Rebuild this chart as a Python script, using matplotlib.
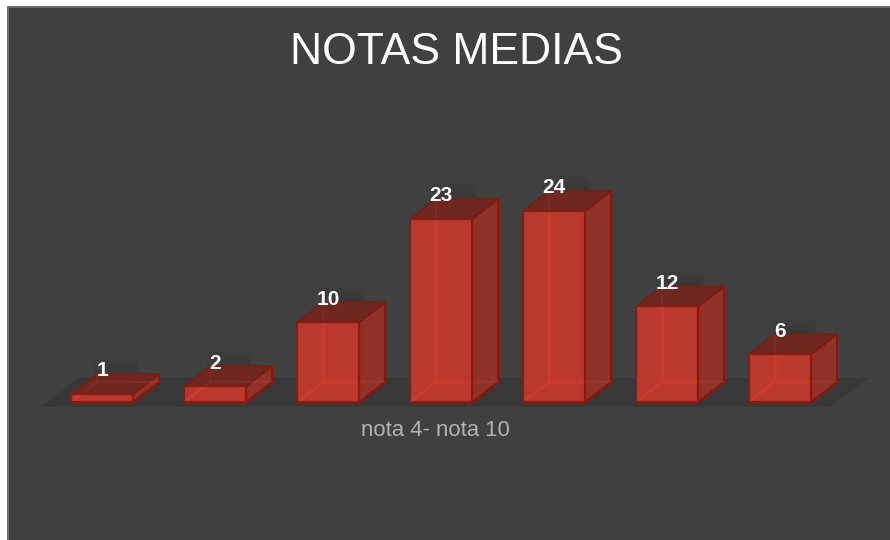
import matplotlib
matplotlib.use("Agg")
from matplotlib import pyplot
from matplotlib.patches import Polygon, Rectangle

categories = [0, 1, 2, 3, 4, 5, 6]
values = [1, 2, 10, 23, 24, 12, 6]
title = "NOTAS MEDIAS"
axis_label = "nota 4- nota 10"

pyplot.rcParams["font.family"] = ["Liberation Sans", "DejaVu Sans"]

# scale of the chart in pixels, the axes fill the whole figure
px_x = 113.0
px_y = 7.96
x0 = 102.0
y0 = 402.0
bar_w = 62.0 / px_x
dep_x = 26.0 / px_x
dep_y = 20.0 / px_y

fig = pyplot.figure(figsize=(8.9, 5.4), dpi=100, facecolor="white")
ax = fig.add_axes([0, 0, 1, 1])
ax.set_xlim(-x0 / px_x, (890 - x0) / px_x)
ax.set_ylim((y0 - 540) / px_y, y0 / px_y)
ax.axis("off")

# panel with its grey border on the left and top
tr = ax.transAxes
ax.add_patch(Rectangle((7 / 890, 0), 883 / 890, 534 / 540, transform=tr, fc="#6b6b6b", ec="none", zorder=0))
ax.add_patch(Rectangle((9 / 890, 0), 881 / 890, 532 / 540, transform=tr, fc="#404040", ec="none", zorder=0))

# floor
floor_l = -0.55
floor_r = 6.44
floor_front = -5.0 / px_y
floor_back = 24.0 / px_y
floor_shift = 39.0 / px_x
ax.add_patch(Polygon([(floor_l, floor_front), (floor_r, floor_front),
                      (floor_r + floor_shift, floor_back), (floor_l + floor_shift, floor_back)],
                     fc="#383838", ec="none", zorder=1))

for c, v in zip(categories, values):
    l = c - bar_w / 2
    r = c + bar_w / 2

    # soft dark shadow behind the label
    for k in range(8):
        inset = k * 3.0
        ax.add_patch(Rectangle((l + (22 + inset) / px_x, v + dep_y - 2 / px_y),
                               (46 - 2 * inset * 0.6) / px_x, (18 - k * 2.0) / px_y,
                               fc="#2c2c2c", ec="none", alpha=0.05, zorder=2))

    # right face
    right = Polygon([(r, 0), (r + dep_x, dep_y), (r + dep_x, v + dep_y), (r, v)],
                    fc="#8f3329", ec="#84190f", lw=1.5, joinstyle="round", zorder=4)
    ax.add_patch(right)
    # top face
    ax.add_patch(Polygon([(l, v), (r, v), (r + dep_x, v + dep_y), (l + dep_x, v + dep_y)],
                         fc="#6f281f", ec="#84190f", lw=1.5, joinstyle="round", zorder=4))
    # front face
    front = Polygon([(l, 0), (r, 0), (r, v), (l, v)], fc="#bb382d", ec="none", zorder=5)
    ax.add_patch(front)

    # inner edges showing through, strong behind the front face and faint elsewhere
    inner_x = [[l + dep_x, l + dep_x], [l + dep_x, r], [l, l + dep_x], [r, r + dep_x]]
    inner_y = [[dep_y, v + dep_y], [dep_y, dep_y], [0, dep_y], [dep_y, dep_y]]
    for xs, ys in zip(inner_x[:3], inner_y[:3]):
        line, = ax.plot(xs, ys, color="#d23a2e", lw=1.8, alpha=0.8, zorder=6, solid_capstyle="butt")
        line.set_clip_path(front)
        ax.plot(xs, ys, color="#c8493c", lw=1.2, alpha=0.16, zorder=5.5, solid_capstyle="butt")
    ax.plot(inner_x[3], inner_y[3], color="#c8493c", lw=1.2, alpha=0.25, zorder=5.5)

    # front outline
    ax.add_patch(Polygon([(l, 0), (r, 0), (r, v), (l, v)],
                         fill=False, ec="#8a1b11", lw=1.6, joinstyle="round", zorder=7))

    ax.annotate(str(v), (c, v), xytext=(0, 16.6), textcoords="offset points",
                ha="center", va="center", color="white", fontsize=15, fontweight="bold", zorder=10)

ax.text(435 / 890, 1 - 430 / 540, axis_label, transform=tr, ha="center", va="center",
        color="#b2b2b2", fontsize=15.9, zorder=10)
ax.text(456 / 890, 1 - 53 / 540, title, transform=tr, ha="center", va="center",
        color="white", fontsize=32, zorder=10)

fig.savefig("out.png", dpi=100, facecolor="white")
